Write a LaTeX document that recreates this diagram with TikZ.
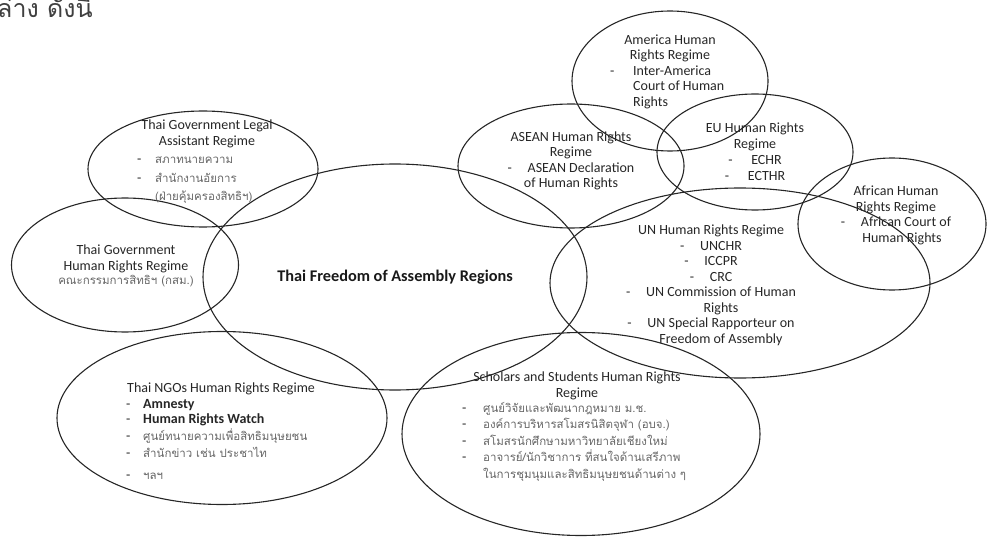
\documentclass[tikz,border=0pt]{standalone}
\usepackage{fontspec}
\setmainfont{Carlito}
\newfontfamily\thaifont[Script=Thai]{Loma}
\usetikzlibrary{shapes.geometric}

\newcommand{\tht}[1]{{\thaifont\fontsize{11.5}{15.5}\selectfont\color{black!60}#1}}
\newcommand{\bl}[1][20pt]{\makebox[#1][l]{-}}

\begin{document}
\begin{tikzpicture}[x=1pt, y=-1pt,
    region/.style={draw=black!85, line width=1.1pt, ellipse, inner sep=0pt},
    lbl/.style={text=black!85, font=\fontsize{14}{15.5}\selectfont, inner sep=0pt, anchor=north},
    cbox/.style={lbl, align=center},
    lbox/.style={lbl, align=left, anchor=north west}]
    \useasboundingbox (0,0) rectangle (987,537);

    % the regimes
    \node[region, minimum width=196, minimum height=140] (amer) at (670,81) {};
    \node[region, minimum width=226, minimum height=124] (asean) at (571,166) {};
    \node[region, minimum width=196, minimum height=116] (eu) at (755,152) {};
    \node[region, minimum width=188, minimum height=132] (afr) at (892,224) {};
    \node[region, minimum width=380, minimum height=190] (un) at (740,283) {};
    \node[region, minimum width=230, minimum height=116] (legal) at (203,169) {};
    \node[region, minimum width=227, minimum height=134] (govhr) at (125,265) {};
    \node[region, minimum width=384, minimum height=226] (core) at (395,277) {};
    \node[region, minimum width=330, minimum height=173] (ngo) at (222,418) {};
    \node[region, minimum width=358, minimum height=203] (schol) at (581,434) {};

    \node[anchor=base west, inner sep=0pt, text=black!75] (intro) at (-3,18)
        {\thaifont\fontsize{25}{28}\selectfont ล่าง ดังนี้};

    \node[inner sep=0pt, text=black!90, font=\fontsize{16.3}{18}\selectfont\bfseries] (title) at (395,277)
        {Thai Freedom of Assembly Regions};

    \node[cbox] (amerH) at (670,34.5) {America Human\\Rights Regime};
    \node[lbox] (amerL) at (610,65.5) {\bl[23pt]Inter-America\\\hspace*{23pt}Court of Human\\\hspace*{23pt}Rights};

    \node[cbox] (aseanT) at (571,131.5) {ASEAN Human Rights\\Regime\\\bl ASEAN Declaration\\of Human Rights};

    \node[cbox] (euT) at (755,123) {EU Human Rights\\Regime\\[0.5pt]\bl[23pt]ECHR\\[0.5pt]\bl[23pt]ECTHR};

    \node[cbox] (afrT) at (896,186) {African Human\\Rights Regime\\\bl African Court of\\\hspace*{12pt}Human Rights};

    \node[cbox] (unT) at (711,225) {UN Human Rights Regime\\\bl UNCHR\\\bl ICCPR\\\bl CRC\\
        \bl UN Commission of Human\\\hspace*{20pt}Rights\\\bl UN Special Rapporteur on\\\hspace*{20pt}Freedom of Assembly};

    \node[cbox] (legalH) at (207,120) {Thai Government Legal\\Assistant Regime};
    \node[lbox] (legalL) at (137,157) {\bl[18pt]\tht{สภาทนายความ}\\[3pt]\bl[18pt]\tht{สำนักงานอัยการ}\\[3pt]
        \hspace*{18pt}\tht{(ฝ่ายคุ้มครองสิทธิฯ)}};

    \node[cbox] (govhrT) at (126,245) {Thai Government\\Human Rights Regime\\[-1pt]\tht{คณะกรรมการสิทธิฯ (กสม.)}};

    \node[lbox] (ngoT) at (126,383) {\hspace*{1pt}Thai NGOs Human Rights Regime\\\bl[17pt]\textbf{Amnesty}\\
        \bl[17pt]\textbf{Human Rights Watch}\\[1.5pt]\bl[17pt]\tht{ศูนย์ทนายความเพื่อสิทธิมนุษยชน}\\[1.5pt]
        \bl[17pt]\tht{สำนักข่าว เช่น ประชาไท}\\[6pt]\bl[17pt]\tht{ฯลฯ}};

    \node[cbox] (scholH) at (577,372) {Scholars and Students Human Rights\\Regime};
    \node[lbox] (scholL) at (462,402) {\bl[21pt]\tht{ศูนย์วิจัยและพัฒนากฎหมาย ม.ช.}\\[1pt]
        \bl[21pt]\tht{องค์การบริหารสโมสรนิสิตจุฬา (อบจ.)}\\[1pt]
        \bl[21pt]\tht{สโมสรนักศึกษามหาวิทยาลัยเชียงใหม่}\\[1pt]
        \bl[21pt]\tht{อาจารย์/นักวิชาการ ที่สนใจด้านเสรีภาพ}\\[1pt]
        \hspace*{21pt}\tht{ในการชุมนุมและสิทธิมนุษยชนด้านต่าง ๆ}};
\end{tikzpicture}
\end{document}
